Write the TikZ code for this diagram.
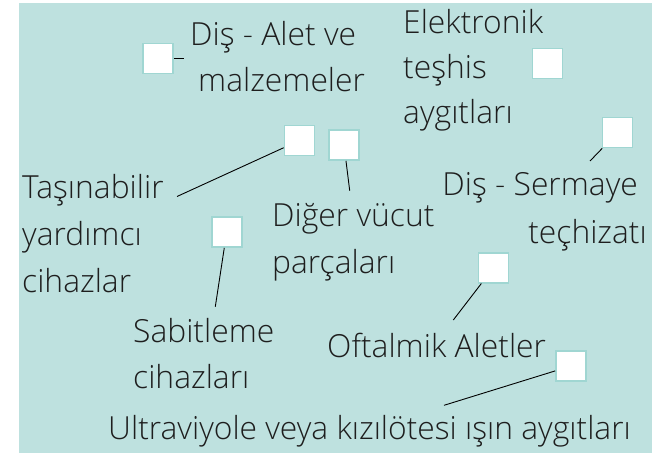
\documentclass[tikz,border=0pt]{standalone}
\usepackage{fontspec}
\setmainfont{Open Sans Light}
\definecolor{bg}{RGB}{190,225,223}
\definecolor{boxline}{RGB}{160,214,210}
\definecolor{ink}{RGB}{30,30,30}
\begin{document}
\begin{tikzpicture}[x=1pt,y=-1pt,
  lbl/.style={font=\fontsize{31.8}{46}\selectfont, text=ink, inner sep=0pt},
  sq/.style={draw=boxline, line width=1.6pt, fill=white, minimum size=30pt, inner sep=0pt},
  conn/.style={draw=black, line width=0.9pt}]
\useasboundingbox (0,0) rectangle (652,453);
\fill[bg] (19,3) rectangle (652,453);
% boxes
\node[sq] (b1) at (158,58.5) {};
\node[sq] (b2) at (547.5,63.5) {};
\node[sq] (b3) at (617.5,132.5) {};
\node[sq] (b4) at (299.5,140.5) {};
\node[sq] (b5) at (344,145) {};
\node[sq] (b6) at (226.7,232) {};
\node[sq] (b7) at (493.5,267.7) {};
\node[sq] (b8) at (571,366) {};
% labels (base anchor = baseline of last line)
\node[lbl, align=left, anchor=base west, font=\fontsize{31.8}{46}\selectfont] (t1) at (190,91.5) {Diş - Alet ve\\\hspace*{8pt}malzemeler};
\node[lbl, align=left, anchor=base west, font=\fontsize{31.8}{45}\selectfont] (t2) at (403,123) {Elektronik\\teşhis\\aygıtları};
\node[lbl, align=left, anchor=base west, font=\fontsize{31.8}{47}\selectfont] (t3) at (22,292) {Taşınabilir\\yardımcı\\cihazlar};
\node[lbl, align=left, anchor=base west, font=\fontsize{31.8}{47}\selectfont] (t4) at (272,273.5) {Diğer vücut\\parçaları};
\node[lbl, align=right, anchor=base east, font=\fontsize{31.8}{48}\selectfont] (t5) at (647,243) {Diş - Sermaye\kern9pt\\teçhizatı};
\node[lbl, align=left, anchor=base west, font=\fontsize{31.8}{46}\selectfont] (t6) at (133,388) {Sabitleme\\cihazları};
\node[lbl, anchor=base west] (t7) at (327,357) {Oftalmik Aletler};
\node[lbl, anchor=base west] (t8) at (108,439) {Ultraviyole veya kızılötesi ışın aygıtları};
% connector ends
\coordinate (e1) at (183.5,58.5);
\coordinate (e3) at (590,161);
\coordinate (e4) at (177,196.5);
\coordinate (e5) at (349.7,190.7);
\coordinate (e6) at (215.3,306.7);
\coordinate (e7) at (453.3,320);
\coordinate (e8) at (444,405.3);
\draw[conn] (b1) -- (e1);
\draw[conn] (b3) -- (e3);
\draw[conn] (b4) -- (e4);
\draw[conn] (b5) -- (e5);
\draw[conn] (b6) -- (e6);
\draw[conn] (b7) -- (e7);
\draw[conn] (b8) -- (e8);
\end{tikzpicture}
\end{document}
